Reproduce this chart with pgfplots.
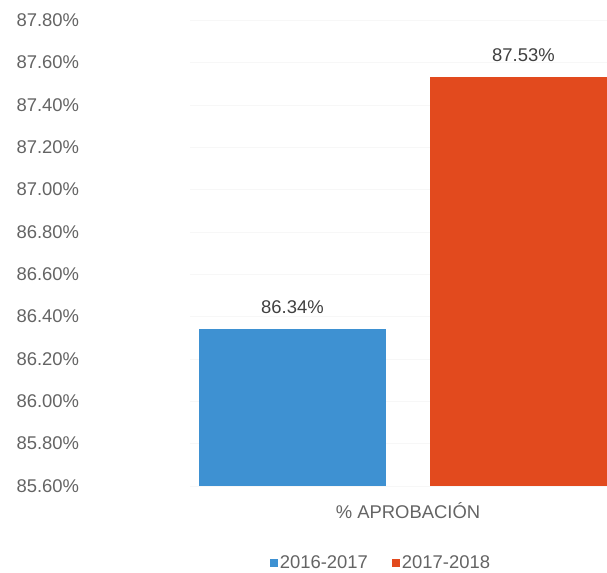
\documentclass[border=0pt]{standalone}
\usepackage{pgfplots}
\pgfplotsset{compat=1.18}
\usepackage{fontspec}
\setmainfont{Liberation Sans}
\definecolor{barblue}{RGB}{62,145,210}
\definecolor{barorange}{RGB}{226,74,30}
\definecolor{txtgray}{RGB}{100,100,100}
\begin{document}
\begin{tikzpicture}
\begin{axis}[
  scale only axis,
  width=417bp, height=466bp,
  xmin=190, xmax=607,
  ymin=85.6, ymax=87.8,
  ytick={85.6,85.8,86.0,86.2,86.4,86.6,86.8,87.0,87.2,87.4,87.6,87.8},
  xtick={408}, xticklabels={\% APROBACIÓN},
  /pgf/number format/assume math mode=true,
  yticklabel={\pgfmathprintnumber[fixed,fixed zerofill,precision=2]{\tick}\%},
  yticklabel style={anchor=west, xshift=-177bp, font=\fontsize{18.5}{20}\selectfont, text=txtgray},
  xticklabel style={font=\fontsize{18.5}{20}\selectfont, text=txtgray, yshift=-13bp},
  major tick length=0pt,
  axis line style={draw=none},
  ymajorgrids, grid style={black!3},
  ybar, bar width=187,
  nodes near coords={\pgfmathprintnumber[fixed,fixed zerofill,precision=2]{\pgfplotspointmeta}\%},
  nodes near coords style={font=\fontsize{18.5}{20}\selectfont, text=black!75, yshift=12bp},
  legend style={at={(0.458,-0.165)}, anchor=center, draw=none, fill=none,
    legend columns=2, font=\fontsize{18.5}{20}\selectfont, text=txtgray,
    /tikz/every even column/.append style={column sep=22bp}},
  legend image code/.code={\fill[#1] (2bp,-4bp) rectangle (10bp,4bp);},
]
\addplot[fill=barblue, draw=none, bar shift=0pt] coordinates {(292.5,86.34)};
\addlegendentry{2016-2017}
\addplot[fill=barorange, draw=none, bar shift=0pt] coordinates {(523.5,87.53)};
\addlegendentry{2017-2018}
\end{axis}
\pgfresetboundingbox
\path[use as bounding box] (-190bp,-87bp) rectangle (417bp,486bp);
\end{tikzpicture}
\end{document}
